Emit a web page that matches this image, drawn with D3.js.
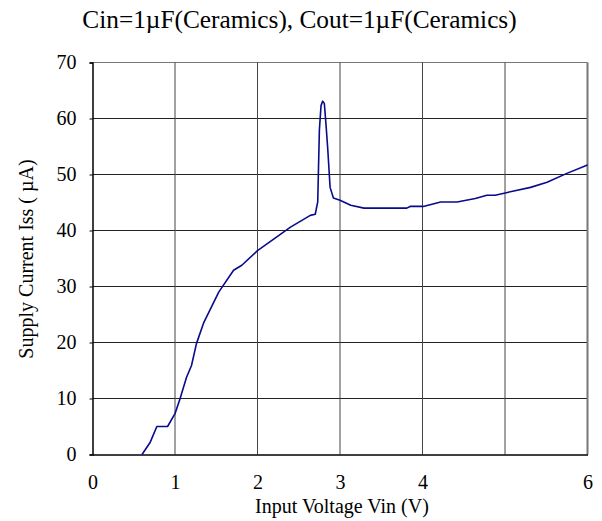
<!DOCTYPE html>
<html>
<head>
<meta charset="utf-8">
<script src="https://cdn.jsdelivr.net/npm/d3@7"></script>
<style>
  body { margin: 0; background: #fff; }
  svg text { font-family: "Liberation Serif", "Times New Roman", "DejaVu Serif", serif; fill: #000; }
</style>
</head>
<body>
<script>
// Vin (V) and Iss (uA)
var vin = [0.60, 0.70, 0.78, 0.91, 1.00, 1.06, 1.14, 1.20, 1.26, 1.35, 1.53, 1.71, 1.81, 2.00,
           2.40, 2.64, 2.70, 2.73, 2.75, 2.77, 2.79, 2.81, 2.83, 2.85, 2.88, 2.92, 3.00, 3.13,
           3.29, 3.81, 3.85, 4.01, 4.22, 4.42, 4.64, 4.78, 4.88, 5.03, 5.31, 5.51, 5.75, 6.00];
var iss = [0.0, 2.2, 5.0, 5.0, 7.3, 9.9, 13.8, 15.9, 19.8, 23.6, 29.0, 32.9, 33.8, 36.4,
           40.6, 42.7, 42.9, 45.1, 57.9, 62.3, 63.1, 62.7, 59.0, 54.9, 47.7, 45.8, 45.4, 44.5,
           44.0, 44.0, 44.3, 44.3, 45.1, 45.1, 45.7, 46.3, 46.3, 46.8, 47.7, 48.6, 50.2, 51.7];
var xTicks = [0, 1, 2, 3, 4, 6];
var xGrid = [1, 2, 3, 4, 5, 6];
var yTicks = [0, 10, 20, 30, 40, 50, 60, 70];
var title = "Cin=1\u00b5F(Ceramics), Cout=1\u00b5F(Ceramics)";

var serif = "'Liberation Serif', 'Times New Roman', 'DejaVu Serif', serif";

function draw_chart(width, height){
  var svg = d3.select("body")
    .append("svg")
    .attr("width", 602)
    .attr("height", 521);

  var g = svg.append("g").attr("transform", "translate(92.5, 62.5)");

  var x = d3.scaleLinear().domain([0, 6]).range([0, width]);
  var y = d3.scaleLinear().domain([0, 70]).range([height, 0]);

  // grid
  g.selectAll(".hgrid")
    .data(yTicks.slice(1))
    .enter().append("line")
      .attr("x1", 0).attr("x2", width)
      .attr("y1", function(d) { return y(d); })
      .attr("y2", function(d) { return y(d); })
      .attr("stroke", function(d) { return d == 70 ? "#777" : "#222"; });

  g.selectAll(".vgrid")
    .data(xGrid)
    .enter().append("line")
      .attr("x1", function(d) { return x(d); })
      .attr("x2", function(d) { return x(d); })
      .attr("y1", 0).attr("y2", height)
      .attr("stroke", function(d) { return d == 6 ? "#777" : "#444"; })
      .attr("stroke-width", function(d) { return d == 6 ? 2 : 1; });

  // axes
  var yAxis = g.append("g")
    .call(d3.axisLeft(y).tickValues(yTicks).tickSize(3).tickPadding(13).tickFormat(d3.format("d")));
  var xAxis = g.append("g")
    .attr("transform", "translate(0, " + height + ")")
    .call(d3.axisBottom(x).tickValues(xTicks).tickSize(0).tickPadding(20).tickFormat(d3.format("d")));

  [xAxis, yAxis].forEach(function(a) {
    a.attr("font-family", serif);
    a.select(".domain").attr("stroke", "#000").attr("stroke-width", 1.5);
    a.selectAll(".tick line").attr("stroke", "#000");
    a.selectAll("text").attr("font-family", serif)
      .attr("font-size", "20px").attr("fill", "#000");
  });

  // curve
  var pts = vin.map(function(v, i) { return [v, iss[i]]; });
  g.append("path")
    .datum(pts)
    .attr("fill", "none")
    .attr("stroke", "#0a0a8c")
    .attr("stroke-width", 1.6)
    .attr("stroke-linejoin", "round")
    .attr("d", d3.line()
      .x(function(d) { return x(d[0]); })
      .y(function(d) { return y(d[1]); }));

  svg.append("text")
    .attr("x", 299.5).attr("y", 28)
    .attr("text-anchor", "middle")
    .attr("font-family", serif)
    .attr("font-size", "25.3px")
    .text(title);

  svg.append("text")
    .attr("x", 342).attr("y", 513)
    .attr("text-anchor", "middle")
    .attr("font-family", serif)
    .attr("font-size", "20px")
    .text("Input Voltage Vin (V)");

  svg.append("text")
    .attr("transform", "translate(33, 259) rotate(-90)")
    .attr("text-anchor", "middle")
    .attr("font-family", serif)
    .attr("font-size", "20px")
    .text("Supply Current Iss ( \u00b5A)");
}

draw_chart(495, 392);
</script>
</body>
</html>
